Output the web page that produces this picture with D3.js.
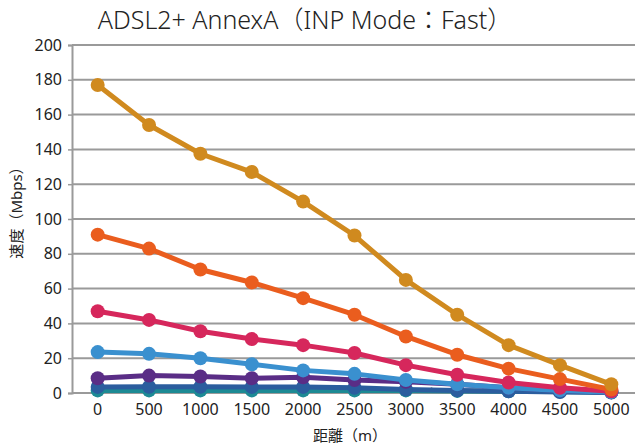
<!DOCTYPE html>
<html>
<head>
<meta charset="utf-8">
<script src="https://cdn.jsdelivr.net/npm/d3@7"></script>
<style>
  body { margin: 0; background: #fff; }
  text { font-family: "Noto Sans", "Noto Sans CJK JP", sans-serif; fill: #222; }
</style>
</head>
<body>
<div id="chart"></div>
<script>
// 距離(m)
const distances = [0, 500, 1000, 1500, 2000, 2500, 3000, 3500, 4000, 4500, 5000];
const yTicks = [0, 20, 40, 60, 80, 100, 120, 140, 160, 180, 200];

// 各系列の速度 (Mbps) 下から順に描く
const teal     = [1.5, 1.5, 1.5, 1.5, 1.5, 1.5, 1.5, 1.2, 1, 0.8, 0.5];
const navy     = [3.5, 3.6, 3.6, 3.5, 3.5, 3, 2, 1.5, 1, 0.6, 0.3];
const purple   = [8.5, 10, 9.5, 8.5, 9, 7.5, 6.5, 5, 3, 1.5, 0.5];
const sky      = [23.5, 22.5, 20, 16.5, 13, 11, 7.5, 5, 3, 1.5, 0.5];
const crimson  = [47, 42, 35.5, 31, 27.5, 23, 16, 10.5, 6, 3, 1];
const orange   = [91, 83, 71, 63.5, 54.5, 45, 32.5, 22, 14, 8, 2];
const gold     = [177, 154, 137.5, 127, 110, 90.5, 65, 45, 27.5, 16, 5];

const seriesList = [teal, navy, purple, sky, crimson, orange, gold];
const colors = ["#1d8a94", "#2b5d9e", "#5a2d86", "#3a90cf", "#d6275c", "#ea5d1e", "#d08a1f"];

const width = 635, height = 446;
const margin = {top: 45, right: -2, bottom: 53, left: 72};

const svg = d3.select("#chart").append("svg")
    .attr("width", width)
    .attr("height", height);

const x = d3.scaleBand()
    .domain(distances)
    .range([margin.left, width - margin.right])
;
const y = d3.scaleLinear()
    .domain([0, 200])
    .range([height - margin.bottom, margin.top])
;

// グリッド線
svg.append("g")
    .selectAll("line")
    .data(yTicks.slice(1))
    .join("line")
        .attr("x1", margin.left)
        .attr("x2", width)
        .attr("y1", d => y(d))
        .attr("y2", d => y(d))
        .attr("stroke", "#9a9a9a")
        .attr("stroke-width", 2)
;

// Y軸
const yAxis = svg.append("g")
    .attr("transform", `translate(${margin.left},0)`)
    .call(d3.axisLeft(y).tickValues(yTicks).tickSize(4).tickPadding(6));
yAxis.select(".domain").attr("stroke", "#9a9a9a").attr("stroke-width", 2);
yAxis.selectAll(".tick line").attr("stroke", "#9a9a9a").attr("stroke-width", 1.5);
yAxis.selectAll("text").attr("font-size", 16).attr("fill", "#222");

// X軸 (目盛りはカテゴリの境界に内向き)
const bottom = y(0);
svg.append("line")
    .attr("x1", margin.left).attr("x2", width)
    .attr("y1", bottom).attr("y2", bottom)
    .attr("stroke", "#9a9a9a").attr("stroke-width", 2);
svg.append("g")
    .selectAll("line")
    .data(distances.slice(1))
    .join("line")
        .attr("x1", d => x(d)).attr("x2", d => x(d))
        .attr("y1", bottom).attr("y2", bottom - 6)
        .attr("stroke", "#a8a8a8").attr("stroke-width", 1.5)
;
svg.append("g")
    .selectAll("text")
    .data(distances)
    .join("text")
        .attr("x", d => x(d) + x.bandwidth() / 2)
        .attr("y", bottom + 22)
        .attr("text-anchor", "middle")
        .attr("font-size", 16)
        .text(d => d)
;

// 折れ線
const line = d3.line()
    .x((d, i) => x(distances[i]) + x.bandwidth() / 2)
    .y(d => y(d));

seriesList.forEach((vals, k) => {
    const g = svg.append("g");
    g.append("path")
        .datum(vals)
        .attr("d", line)
        .attr("fill", "none")
        .attr("stroke", colors[k])
        .attr("stroke-width", 5)
        .attr("stroke-linejoin", "round");
    g.selectAll("circle")
        .data(vals)
        .join("circle")
            .attr("cx", (d, i) => x(distances[i]) + x.bandwidth() / 2)
            .attr("cy", d => y(d))
            .attr("r", 7)
            .attr("fill", colors[k]);
});

// タイトル・軸ラベル
svg.append("text")
    .attr("x", 305)
    .attr("y", 29)
    .attr("text-anchor", "middle")
    .attr("font-size", 25)
    .attr("font-weight", 300)
    .attr("font-family", "'Noto Sans CJK JP', sans-serif")
    .text("ADSL2+ AnnexA（INP Mode：Fast）");

svg.append("text")
    .attr("transform", `translate(22,${(margin.top + bottom) / 2 - 10}) rotate(-90)`)
    .attr("text-anchor", "middle")
    .attr("font-size", 15)
    .attr("font-family", "'Noto Sans CJK JP', sans-serif")
    .text("速度（Mbps）");

svg.append("text")
    .attr("x", 350)
    .attr("y", 441)
    .attr("text-anchor", "middle")
    .attr("font-size", 15)
    .attr("font-family", "'Noto Sans CJK JP', sans-serif")
    .text("距離（m）");
</script>
</body>
</html>
